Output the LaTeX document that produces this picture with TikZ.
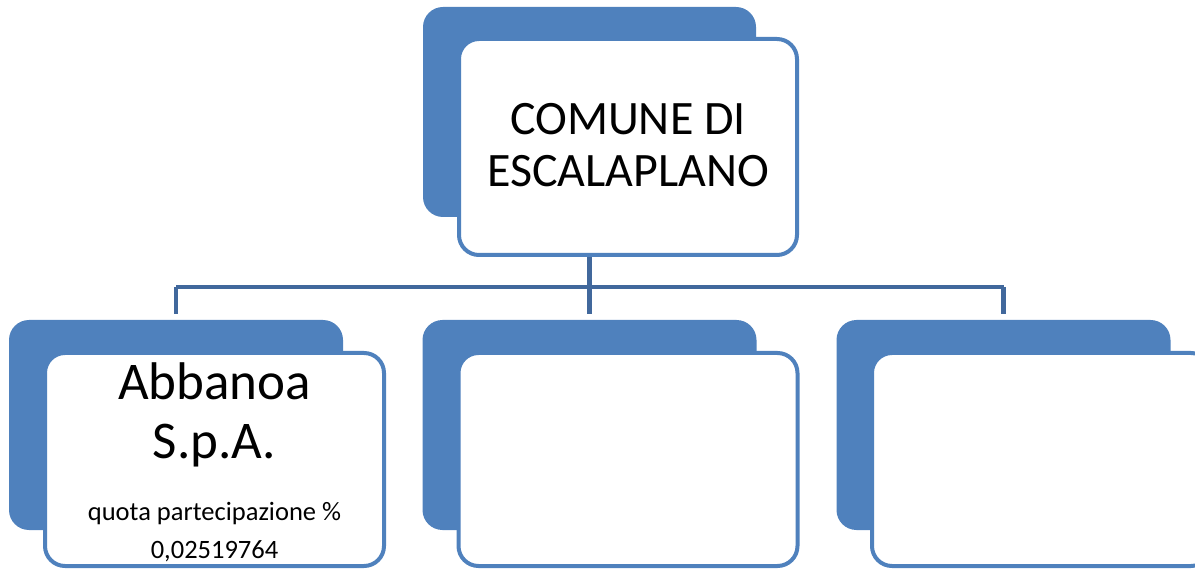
\documentclass[tikz,border=0pt]{standalone}
\usepackage{fontspec}
\setmainfont{Carlito}
\definecolor{orgblue}{HTML}{4F81BD}
\definecolor{orgline}{HTML}{41689C}
\begin{document}
\begin{tikzpicture}
        [x=1pt,y=-1pt,
        back/.style={fill=orgblue,draw=none,rounded corners=20pt,inner sep=0pt,outer sep=0pt,
                minimum width=334pt,minimum height=210pt},
        front/.style={fill=white,draw=orgblue,line width=4pt,rounded corners=20pt,inner sep=0pt,outer sep=0pt,
                minimum width=339pt,minimum height=213pt},
        bus/.style={draw=orgline,line width=4.5pt},
        bigtext/.style={font=\fontsize{48}{54}\selectfont,anchor=base},
        firmtext/.style={font=\fontsize{53}{60}\selectfont,anchor=base},
        smalltext/.style={font=\fontsize{26.5}{30}\selectfont,anchor=base}]
        \useasboundingbox (0,0) rectangle (1195,569);
        \clip (0,0) rectangle (1195,569);
        %Comune
        \node [back,minimum width=333pt] (topback) at (589.5,112) {};
        %Partecipate (hinten)
        \node [back] (leftback) at (176,425) {};
        \node [back] (midback) at (589.5,425) {};
        \node [back] (rightback) at (1003.5,425) {};
        %Verbindungen
        \coordinate (busmid) at (589.5,287);
        \draw [bus] (topback.south) -- (busmid);
        \draw [bus] (leftback.north |- busmid) -- (rightback.north |- busmid);
        \draw [bus,shorten >=6pt] (leftback.north |- busmid) -- (leftback.north);
        \draw [bus,shorten >=6pt] (busmid) -- (midback.north);
        \draw [bus,shorten >=6pt] (rightback.north |- busmid) -- (rightback.north);
        %Vordere Kaesten
        \node [front,minimum width=338pt,minimum height=216pt] (topfront) at (628,147) {};
        \node [front] (leftfront) at (214.5,459.5) {};
        \node [front] (midfront) at (628,459.5) {};
        \node [front] (rightfront) at (1041.5,459.5) {};
        %Texte
        \node [bigtext] (comune) at (628,135) {COMUNE DI};
        \node [bigtext] (escalaplano) at (628,187) {ESCALAPLANO};
        \node [firmtext] (abbanoa) at (214.5,400) {Abbanoa};
        \node [firmtext] (spa) at (214.5,458) {S.p.A.};
        \node [smalltext] (quota) at (214.5,520) {quota partecipazione \%};
        \node [smalltext] (valore) at (214.5,558) {0,02519764};
\end{tikzpicture}
\end{document}
